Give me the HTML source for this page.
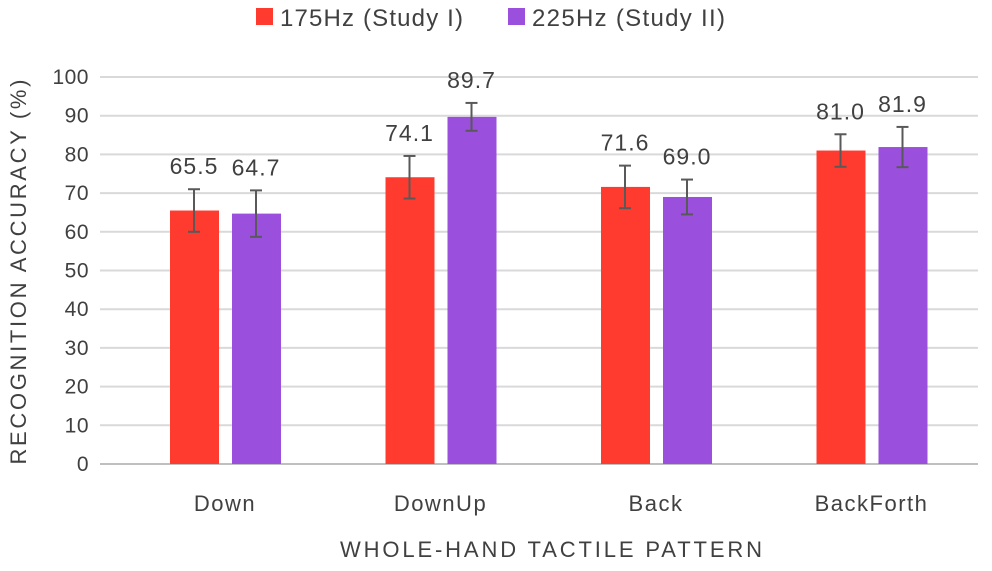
<!DOCTYPE html>
<html><head><meta charset="utf-8"><style>
body{margin:0;background:#fff;}
svg text{font-family:"Liberation Sans",sans-serif;fill:#404040;}
</style></head><body>
<svg width="992" height="566" id="chart">
<g id="grid"></g><g id="bars"></g>
<g>
<rect x="256" y="8" width="17" height="17" fill="#FF3B30"/>
<text x="280" y="26" font-size="24" textLength="183">175Hz (Study I)</text>
<rect x="508" y="8" width="17" height="17" fill="#9B4FDD"/>
<text x="532" y="26" font-size="24" textLength="193">225Hz (Study II)</text>
</g>
<text transform="translate(26,272) rotate(-90)" text-anchor="middle" font-size="22" textLength="385">RECOGNITION ACCURACY (%)</text>
<text x="551" y="557" text-anchor="middle" font-size="22" textLength="422">WHOLE-HAND TACTILE PATTERN</text>
</svg>
<script>
const categories=["Down","DownUp","Back","BackForth"];
const study1=[65.5,74.1,71.6,81.0];
const study2=[64.7,89.7,69.0,81.9];
const err1=[5.5,5.5,5.5,4.2];
const err2=[6,3.6,4.5,5.2];
const yTicks=[0,10,20,30,40,50,60,70,80,90,100];
const NS="http://www.w3.org/2000/svg";
const y=v=>464-v*3.87;
const cx=i=>225+215.5*i;
function mk(t,a,p){const e=document.createElementNS(NS,t);for(const k in a)e.setAttribute(k,a[k]);p.appendChild(e);return e;}
const grid=document.getElementById('grid'),bars=document.getElementById('bars');
yTicks.forEach(t=>{
 const l=mk('line',{x1:100,x2:978,y1:y(t),y2:y(t),stroke:t===0?'#bfbfbf':'#d9d9d9','stroke-width':2},grid);
 
 
 const tx=mk('text',{x:89,y:y(t)+7,'text-anchor':'end','font-size':21,'letter-spacing':'0.5'},grid);
 tx.textContent=t;
 
 
});
function bar(i,v,e,color,off,name){
 const c=cx(i)+off;
 const r=mk('rect',{x:c-24,y:y(v),width:49,height:y(0)-y(v),fill:color},bars);
 
 
 const g=mk('g',{stroke:'#595959','stroke-width':2},bars);
 
 
 mk('line',{x1:c,x2:c,y1:y(v+e),y2:y(v-e)},g);
 mk('line',{x1:c-6,x2:c+6,y1:y(v+e),y2:y(v+e)},g);
 mk('line',{x1:c-6,x2:c+6,y1:y(v-e),y2:y(v-e)},g);
 const t=mk('text',{x:c,y:y(v+e)-15,'text-anchor':'middle','font-size':23,'letter-spacing':'1'},bars);
 t.textContent=v.toFixed(1);
 
 
}
categories.forEach((c,i)=>{
 bar(i,study1[i],err1[i],'#FF3B30',-31,'study1');
 bar(i,study2[i],err2[i],'#9B4FDD',31,'study2');
 const t=mk('text',{x:cx(i),y:511,'text-anchor':'middle','font-size':22,'letter-spacing':'1.5'},bars);
 t.textContent=c;
 
 
});
</script>
</body></html>
